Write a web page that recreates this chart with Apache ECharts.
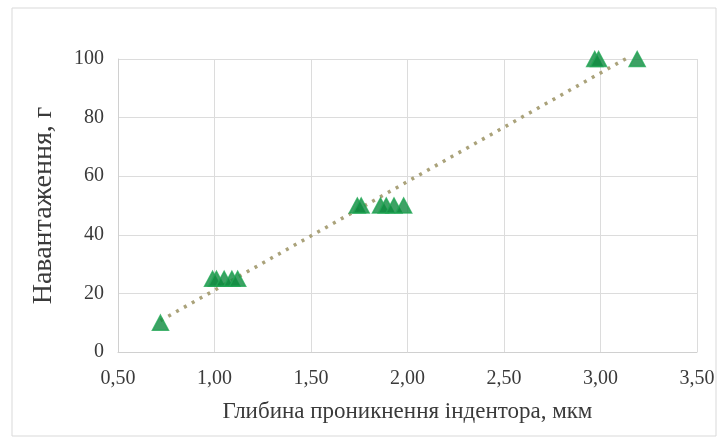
<!DOCTYPE html>
<html>
<head>
<meta charset="utf-8">
<script src="https://cdn.jsdelivr.net/npm/echarts@6/dist/echarts.min.js"></script>
<style>
  html, body { margin: 0; padding: 0; background: #fff; }
  #chart { width: 722px; height: 441px; }
</style>
</head>
<body>
<div id="chart"></div>
<script>
// Indentation depth (µm) and applied load (g) per measurement
const depth = [0.72, 0.99, 1.01, 1.05, 1.09, 1.12, 1.74, 1.76, 1.86, 1.89, 1.93, 1.98, 2.97, 2.99, 3.19];
const load  = [10,   25,   25,   25,   25,   25,   50,   50,   50,   50,   50,   50,   100,  100,  100];

const xTitle = 'Глибина проникнення індентора, мкм';
const yTitle = 'Навантаження, г';

const points = depth.map((d, i) => [d, load[i]]);

// Least-squares linear trend over the measured depth range
const n = depth.length;
const mx = depth.reduce((a, b) => a + b, 0) / n;
const my = load.reduce((a, b) => a + b, 0) / n;
let sxy = 0, sxx = 0;
for (let i = 0; i < n; i++) {
  sxy += (depth[i] - mx) * (load[i] - my);
  sxx += (depth[i] - mx) * (depth[i] - mx);
}
const slope = sxy / sxx;
const intercept = my - slope * mx;
const xMin = Math.min(...depth), xMax = Math.max(...depth);
const trend = [[xMin, intercept + slope * xMin], [xMax, intercept + slope * xMax]];

const font = '"Liberation Serif", "Times New Roman", serif';
const textColor = '#3a3a3a';

const chart = echarts.init(document.getElementById('chart'));
chart.setOption({
  animation: false,
  backgroundColor: '#fff',
  graphic: [{
    type: 'rect',
    shape: { x: 12, y: 8, width: 704, height: 428 },
    style: { fill: 'none', stroke: '#d9d9d9', lineWidth: 1 },
    silent: true
  }],
  grid: { left: 118, right: 25, top: 59, bottom: 89 },
  xAxis: {
    type: 'value',
    min: 0.5, max: 3.5, interval: 0.5,
    name: xTitle,
    nameLocation: 'middle',
    nameGap: 48,
    nameTextStyle: { fontFamily: font, fontSize: 23, color: textColor },
    axisLine: { show: true, lineStyle: { color: '#d0d0d0', width: 1 } },
    axisTick: { show: false },
    axisLabel: {
      fontFamily: font, fontSize: 20, color: textColor, margin: 17,
      formatter: v => v.toFixed(2).replace('.', ',')
    },
    splitLine: { show: true, lineStyle: { color: '#dcdcdc', width: 1 } }
  },
  yAxis: {
    type: 'value',
    min: 0, max: 100, interval: 20,
    name: yTitle,
    nameLocation: 'middle',
    nameGap: 60,
    nameRotate: 90,
    nameTextStyle: { fontFamily: font, fontSize: 28, color: textColor },
    axisLine: { show: true, lineStyle: { color: '#d0d0d0', width: 1 } },
    axisTick: { show: false },
    axisLabel: { fontFamily: font, fontSize: 20, color: textColor, margin: 14 },
    splitLine: { show: true, lineStyle: { color: '#dcdcdc', width: 1 } }
  },
  series: [
    {
      type: 'line',
      data: trend,
      showSymbol: false,
      symbol: 'none',
      lineStyle: { color: '#aaa27a', width: 3.5, type: [3, 6] },
      z: 2,
      silent: true
    },
    {
      type: 'scatter',
      data: points,
      symbol: 'triangle',
      symbolSize: [16, 15],
      itemStyle: { color: '#0e8a3f', borderColor: '#22a655', borderWidth: 1.5 },
      z: 3
    }
  ]
});
</script>
</body>
</html>
